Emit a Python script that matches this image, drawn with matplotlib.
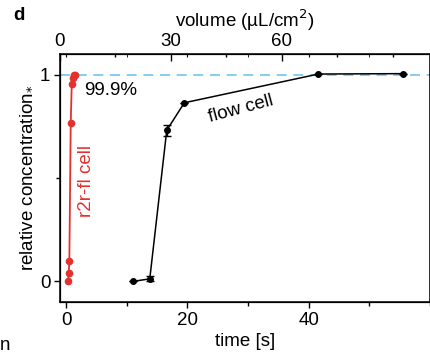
import matplotlib
matplotlib.use("Agg")
import matplotlib.pyplot as plt
from matplotlib.ticker import MultipleLocator

plt.rcParams['font.family'] = ['Liberation Sans', 'DejaVu Sans']
plt.rcParams['font.size'] = 13.5

# r2r-fl cell data
r2r_time = [0.33, 0.44, 0.54, 0.77, 0.94, 1.1, 1.3, 1.5]
r2r_conc = [0.0, 0.04, 0.096, 0.767, 0.957, 0.985, 0.998, 0.999]

# flow cell data
flow_time = [11.1, 13.8, 16.6, 19.5, 41.6, 55.6]
flow_conc = [0.0, 0.012, 0.731, 0.864, 1.003, 1.005]
flow_err = [0.0, 0.012, 0.027, 0.0, 0.0, 0.0]

x_ticks = [0, 20, 40]
y_ticks = [0, 1]
vol_ticks = [0, 30, 60]

red = '#e3312e'

fig = plt.figure(figsize=(4.31, 3.58), dpi=100)
ax = fig.add_axes([60/431, 1-302/358, 370/431, 248/358])

ax.axhline(1.0, color='#74c4f0', lw=1.2, ls=(0, (6, 4)), zorder=1)
ax.plot(r2r_time, r2r_conc, color=red, marker='o', ms=4.5, lw=1.3, zorder=3)
ax.errorbar(flow_time, flow_conc, yerr=flow_err, color='black', marker='o', ms=4,
            lw=1.1, capsize=3, elinewidth=1.0, capthick=1.0, zorder=3)

ax.set_xlim(-1, 60)
ax.set_ylim(-0.1, 1.1)
ax.set_xticks(x_ticks)
ax.set_yticks(y_ticks)
ax.xaxis.set_minor_locator(MultipleLocator(10))
ax.yaxis.set_minor_locator(MultipleLocator(0.5))
ax.tick_params(which='major', direction='out', length=4, width=1, pad=3)
ax.tick_params(which='minor', direction='out', length=3, width=1)
for s in ax.spines.values():
    s.set_linewidth(1.1)

ax.set_xlabel('time [s]', labelpad=3)
ax.set_ylabel(r'relative concentration$_{*}$', labelpad=4)

# mirrored time ticks on top (inward)
axm = ax.twiny()
axm.set_xlim(ax.get_xlim())
axm.set_xticks(x_ticks)
axm.xaxis.set_minor_locator(MultipleLocator(10))
axm.tick_params(which='both', direction='in', length=2.5, labeltop=False)

# volume axis on top
axv = ax.twiny()
axv.set_xlim(0, 100)
axv.set_xticks(vol_ticks)
axv.xaxis.set_minor_locator(MultipleLocator(15))
axv.tick_params(which='major', direction='in', length=5, width=1, pad=3)
axv.tick_params(which='minor', direction='in', length=2.5, width=1)
axv.set_xlabel('volume (µL/cm$^2$)', labelpad=4)

ax.text(3.0, 0.925, '99.9%', ha='left', va='center')
ax.text(28.9, 0.835, 'flow cell', ha='center', va='center', rotation=15)
ax.text(3.4, 0.484, 'r2r-fl cell', ha='center', va='center', rotation=90, color=red)

fig.text(19/431, 1-16/358, 'd', ha='center', va='center', fontweight='bold', fontsize=13.5)
fig.text(0.0, 1-345/358, 'n', ha='left', va='center')

fig.savefig('out.png', dpi=100)
